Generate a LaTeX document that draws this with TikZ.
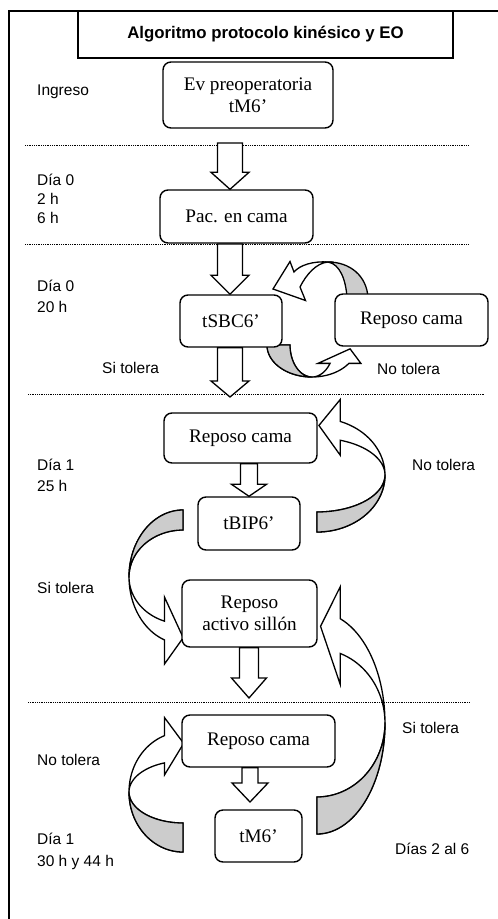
\documentclass[tikz,border=0pt]{standalone}
\usepackage{fontspec}
\setmainfont{Liberation Serif}
\newfontfamily\arialf{Liberation Sans}
\usetikzlibrary{calc}
\newcommand\blockarr[5]{%
  \draw[blockarrow] let \p1=(#1), \p2=(#2) in
    (\x2-#3pt,\y1) -- (\x2+#3pt,\y1) -- (\x2+#3pt,\y2+#5pt) -- (\x2+#4pt,\y2+#5pt)
    -- (\x2,\y2) -- (\x2-#4pt,\y2+#5pt) -- (\x2-#3pt,\y2+#5pt) -- cycle;}
% curved ribbon arrow in a local frame: centre (0,0), twist at (rx,0),
% tail at (0,ry) [back side shaded], head near the top
\newcommand\ribbonarrow[7]{%
  \pgfmathsetmacro\rbA{#1}\pgfmathsetmacro\rbO{#2}\pgfmathsetmacro\rbI{#3}\pgfmathsetmacro\rbH{#4}%
  \pgfmathsetmacro\rbxb{\rbA*cos(\rbH)}%
  \pgfmathsetmacro\rbyo{\rbO*sin(\rbH)}%
  \pgfmathsetmacro\rbyi{\rbI*sin(\rbH)}%
  \pgfmathsetmacro\rbym{(\rbyo+\rbyi)/2}%
  \pgfmathsetmacro\rbtx{\rbA*sin(\rbH)}%
  \pgfmathsetmacro\rbty{-(\rbO+\rbI)/2*cos(\rbH)}%
  \pgfmathsetmacro\rbtn{sqrt(\rbtx*\rbtx+\rbty*\rbty)}%
  \pgfmathsetmacro\rbxt{\rbxb+#7*\rbtx/\rbtn}%
  \pgfmathsetmacro\rbyt{\rbym+#7*\rbty/\rbtn}%
  \filldraw[ribbon] plot[domain=90:\rbH, samples=50, variable=\q] ({\rbA*cos(\q)},{\rbI*sin(\q)})
     -- (\rbxb,\rbyi+#6) -- (\rbxt,\rbyt) -- (\rbxb,\rbyo-#5)
     -- plot[domain=\rbH:90, samples=50, variable=\q] ({\rbA*cos(\q)},{\rbO*sin(\q)}) -- cycle;
  \filldraw[ribbonback] plot[domain=0:90, samples=30, variable=\q] ({\rbA*cos(\q)},{\rbI*sin(\q)})
     -- plot[domain=90:0, samples=30, variable=\q] ({\rbA*cos(\q)},{\rbO*sin(\q)}) -- cycle;
}
\begin{document}
\begin{tikzpicture}[x=1pt,y=-1pt,
  lbl/.style={font=\arialf\fontsize{15.5}{20.5}\selectfont, anchor=west, align=left, inner sep=0pt},
  box/.style={draw, line width=1.4pt, rounded corners=8pt, fill=white,
     font=\fontsize{19.2}{21.5}\selectfont, align=center, inner sep=0pt},
  titlebox/.style={draw, line width=1.6pt, fill=white, inner sep=0pt,
     font=\arialf\bfseries\fontsize{16.8}{20}\selectfont},
  dotline/.style={line width=0.9pt, dash pattern=on 0.9pt off 0.9pt},
  blockarrow/.style={draw, line width=1.3pt, fill=white, line join=miter},
  ribbon/.style={draw, line width=1.3pt, fill=white, line join=miter},
  ribbonback/.style={draw, line width=1.3pt, fill=black!20},
]
\useasboundingbox (0,0) rectangle (498,919);
\fill[white] (0,0) rectangle (498,919);

% frame
\draw[line width=1.8pt] (9,919) -- (9,11) -- (498,11);

% separators
\draw[dotline] (25,145) -- (468,145);
\draw[dotline] (25,244) -- (468,244);
\draw[dotline] (28,394) -- (485,394);
\draw[dotline] (28,702) -- (470,702);

% curved arrows
% loop, upper part (Reposo cama -> tSBC6')
\filldraw[ribbon] (328,262) .. controls (313,261) and (300,265) .. (294,272)
  -- (290,261.5) -- (273,289) -- (305.5,300.5) -- (300,287)
  .. controls (306,275) and (316,263) .. (328,262) -- cycle;
\filldraw[ribbonback] (328,262) .. controls (350,262) and (367,276) .. (368,298)
  -- (347,298) .. controls (346,280) and (340,264) .. (328,262) -- cycle;
% loop, lower part (tSBC6' -> Reposo cama)
\begin{scope}[shift={(312,345)}, rotate=-90]
  \ribbonarrow{32}{45}{22}{-55}{12}{12}{18}
\end{scope}
\begin{scope}[shift={(317,475)}]
  \ribbonarrow{68}{57}{37}{-70}{22}{15}{22}
\end{scope}
\begin{scope}[shift={(183,577)}, rotate=180]
  \ribbonarrow{54}{67}{47}{-70}{24}{24}{20}
\end{scope}
\begin{scope}[shift={(317,723)}]
  \ribbonarrow{68}{111}{74}{-70}{32}{31}{22}
\end{scope}
\begin{scope}[shift={(183,792)}, xscale=-1]
  \ribbonarrow{54}{60}{31}{-70}{18}{12}{20}
\end{scope}

% title and boxes
\node[titlebox, minimum width=375pt, minimum height=47pt] (title) at (265.5,34.5) {Algoritmo protocolo kinésico y EO};
\node[box, minimum width=170pt, minimum height=66pt] (ev) at (248,95) {Ev preoperatoria\\tM6'};
\node[box, minimum width=153pt, minimum height=53pt] (pac) at (236.5,216.5) {Pac. en cama};
\node[box, minimum width=102pt, minimum height=52pt] (tsbc) at (231,321) {tSBC6'};
\node[box, minimum width=153pt, minimum height=52pt] (rc1) at (411.5,320) {Reposo cama};
\node[box, minimum width=153pt, minimum height=50pt] (rc2) at (240.5,438) {Reposo cama};
\node[box, minimum width=102pt, minimum height=53pt] (tbip) at (249,523.5) {tBIP6'};
\node[box, minimum width=135pt, minimum height=67pt] (ras) at (249.5,613.5) {Reposo\\activo sillón};
\node[box, minimum width=153pt, minimum height=52pt] (rc3) at (258.5,741) {Reposo cama};
\node[box, minimum width=87pt, minimum height=52pt] (tm6) at (258.5,836) {tM6'};

% straight block arrows
\coordinate (a1s) at (230,143);
\coordinate (a2s) at (230,244);
\coordinate (a3t) at (230,397);
\coordinate (a5t) at (249,698);
\coordinate (a6t) at (250,802);
\blockarr{a1s}{pac.north -| a1s}{12.5}{19}{17}
\blockarr{a2s}{tsbc.north -| a2s}{12.5}{19}{19}
\blockarr{tsbc.south -| a3t}{a3t}{12.5}{19}{16}
\blockarr{rc2.south -| tbip.north}{tbip.north}{8.5}{17.5}{12}
\blockarr{ras.south -| a5t}{a5t}{9.5}{17.5}{20}
\blockarr{rc3.south -| a6t}{a6t}{8}{18}{19}

% labels
\node[lbl] (ingreso) at (37,92) {Ingreso};
\node[lbl, font=\arialf\fontsize{15.5}{19}\selectfont] (d0a) at (37,199) {Día 0\\2 h\\6 h};
\node[lbl] (d0b) at (37,296.5) {Día 0\\20 h};
\node[lbl] (si1) at (102,368) {Si tolera};
\node[lbl] (no1) at (377,369) {No tolera};
\node[lbl] (d1a) at (37,475.5) {Día 1\\25 h};
\node[lbl] (no2) at (412,465) {No tolera};
\node[lbl] (si2) at (37,588) {Si tolera};
\node[lbl] (si3) at (402,728) {Si tolera};
\node[lbl] (no3) at (37,760) {No tolera};
\node[lbl, font=\arialf\fontsize{15.5}{22}\selectfont] (d1b) at (37,851) {Día 1\\30 h y 44 h};
\node[lbl] (d26) at (395,849) {Días 2 al 6};
\end{tikzpicture}
\end{document}
